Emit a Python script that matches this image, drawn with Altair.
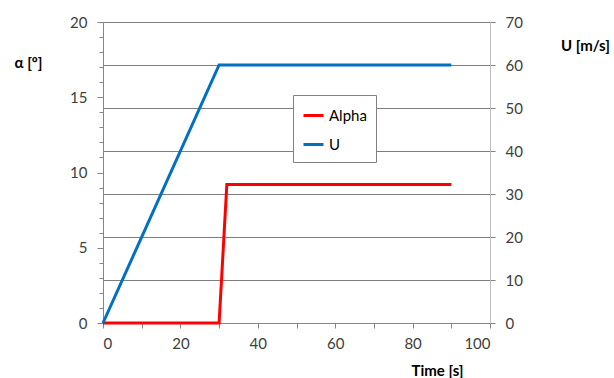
import altair as alt
import pandas as pd

# Data
alpha_t = [0, 30, 32, 90]
alpha_v = [0, 0, 9.2, 9.2]
u_t = [0, 30, 90]
u_v = [0, 60, 60]
series_names = ["Alpha", "U"]
series_colors = ["#FF0000", "#0070C0"]

df_a = pd.DataFrame({"t": alpha_t, "alpha": alpha_v})
df_u = pd.DataFrame({"t": u_t, "U": u_v})

FONT = "Lato"
LABEL_COLOR = "#404040"
AXIS_COLOR = "#868686"
LBL = 15

color_scale = alt.Scale(domain=series_names, range=series_colors)

x_enc = alt.X(
    "t:Q",
    scale=alt.Scale(domain=[0, 100], nice=False),
    axis=alt.Axis(
        values=list(range(0, 101, 10)),
        labelExpr="datum.value % 20 === 0 ? datum.label : ''",
        labelFont=FONT,
        labelFontSize=LBL,
        labelColor=LABEL_COLOR,
        title="Time [s]",
        titleFont=FONT,
        titleFontWeight="bold",
        titleFontSize=15,
        titleX=334,
        titleY=47,
        titleAlign="center",
        titleBaseline="middle",
        titleColor="#000000",
        grid=False,
        tickSize=5,
        labelPadding=8,
        domainColor=AXIS_COLOR,
        tickColor=AXIS_COLOR,
    ),
)

alpha_line = alt.Chart(df_a).mark_line(strokeWidth=3, clip=False).encode(
    x=x_enc,
    y=alt.Y(
        "alpha:Q",
        scale=alt.Scale(domain=[0, 20], nice=False),
        axis=alt.Axis(
            values=list(range(0, 21, 1)),
            labelExpr="datum.value % 5 === 0 ? datum.label : ''",
            labelFont=FONT,
            labelFontSize=LBL,
            labelColor=LABEL_COLOR,
            title="α [º]",
            titleFont=FONT,
            titleAngle=0,
            titleFontWeight="bold",
            titleFontSize=15,
            titleX=-75,
            titleY=40,
            titleAlign="center",
            titleBaseline="middle",
            titleColor="#000000",
            grid=False,
            tickSize={"condition": {"test": "datum.value % 5 === 0", "value": 6}, "value": 4},
            labelPadding=10,
            domainColor=AXIS_COLOR,
            tickColor=AXIS_COLOR,
        ),
    ),
    color=alt.Color(
        "s:N",
        scale=color_scale,
        legend=alt.Legend(
            title=None,
            orient="none",
            legendX=190,
            legendY=73,
            symbolType="stroke",
            symbolStrokeWidth=3,
            symbolSize=400,
            labelFontSize=15,
            labelFont=FONT,
            labelColor="#000000",
            strokeColor="#808080",
            padding=9,
            rowPadding=9,
            fillColor="#ffffff",
        ),
    ),
).transform_calculate(s="'Alpha'")

u_line = alt.Chart(df_u).mark_line(strokeWidth=3, clip=False).encode(
    x=x_enc,
    y=alt.Y(
        "U:Q",
        scale=alt.Scale(domain=[0, 70], nice=False),
        axis=alt.Axis(
            values=list(range(0, 71, 10)),
            orient="right",
            labelFont=FONT,
            labelFontSize=LBL,
            labelColor=LABEL_COLOR,
            title="U [m/s]",
            titleFont=FONT,
            titleAngle=0,
            titleFontWeight="bold",
            titleFontSize=15,
            titleX=95,
            titleY=23,
            titleAlign="center",
            titleBaseline="middle",
            titleColor="#000000",
            grid=True,
            gridColor="#7f7f7f",
            gridWidth=1,
            tickSize=5,
            labelPadding=10,
            domainColor="#bfbfbf",
            tickColor="#7f7f7f",
        ),
    ),
    color=alt.Color("s:N", scale=color_scale),
).transform_calculate(s="'U'")

chart = (
    alt.layer(alpha_line, u_line)
    .resolve_scale(y="independent")
    .properties(
        width=387,
        height=301,
        autosize=alt.AutoSizeParams(type="none"),
        padding={"left": 103, "top": 22, "right": 124, "bottom": 55},
    )
    .configure_view(stroke=None)
    .configure(background="white")
)

chart.save("out.html", embed_options={"renderer": "svg", "actions": False})
